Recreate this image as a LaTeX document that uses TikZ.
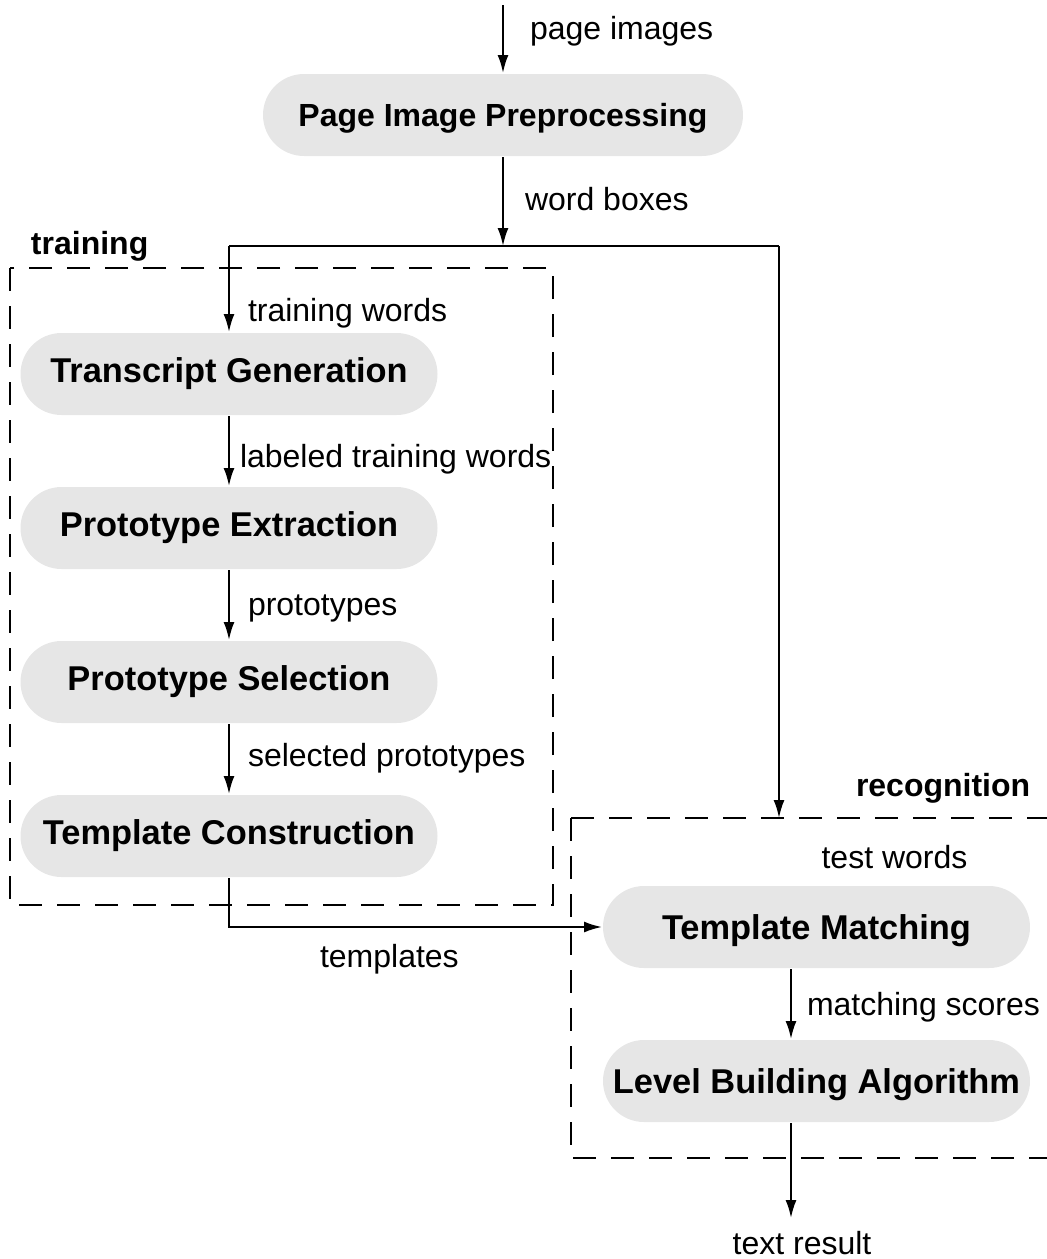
\documentclass[tikz,border=0pt]{standalone}
\usepackage{fontspec}
\setmainfont{Liberation Sans}
\usetikzlibrary{arrows.meta,positioning,calc}
\definecolor{pillgray}{HTML}{E6E6E6}
\tikzset{
  stage/.style={rectangle,rounded corners=20.5pt,fill=pillgray,minimum height=41pt,
    font=\fontsize{17.2pt}{20pt}\selectfont\bfseries},
  title/.style={anchor=west,inner sep=0pt,font=\fontsize{16pt}{19pt}\selectfont\bfseries},
  lbl/.style={font=\fontsize{16pt}{19pt}\selectfont},
  elbl/.style={lbl,yshift=-1.8pt},
  groupbox/.style={dash pattern=on 11.5pt off 7.5pt,line width=1pt},
}

\begin{document}
\begin{tikzpicture}[x=1pt,y=1pt,node distance=77pt,on grid,auto,line width=1pt,
    >={Latex[length=9pt,width=5.5pt]}]
   \useasboundingbox (0,0) rectangle (523.5,-629.5);
   % stages
   \node [stage,minimum width=240pt,font=\fontsize{16pt}{19pt}\selectfont\bfseries,text depth=0pt] (prep) at (251.5,-57.5) {Page Image Preprocessing};
   \node [stage,minimum width=208.5pt] (trans) at (114.5,-187) {Transcript Generation};
   \node [stage,minimum width=208.5pt] (extr) [below=of trans] {Prototype Extraction};
   \node [stage,minimum width=208.5pt] (sel) [below=of extr] {Prototype Selection};
   \node [stage,minimum width=208.5pt] (constr) [below=of sel] {Template Construction};
   \node [stage,minimum width=213.5pt,text depth=0pt] (match) at (408.25,-463.5) {Template Matching};
   \node [stage,minimum width=213.5pt,text depth=0pt] (level) [below=of match] {Level Building Algorithm};
   % group boxes
   \draw [groupbox] (5,-134) rectangle (276.5,-452.5);
   \draw [groupbox] (285.5,-409) -- (523.5,-409);
   \draw [groupbox] (285.5,-409) -- (285.5,-579) -- (523.5,-579);
   \node [title] (traintitle) at (15,-123) {training};
   \node [title] (rectitle) at (427.5,-394) {recognition};
   % free ends
   \coordinate (top) at (251.5,-2.5);
   \coordinate (split) at (251.5,-123);
   \coordinate (wl) at (114.5,-123);
   \coordinate (wr) at (389.5,-123);
   \coordinate (rin) at (389.5,-409);
   \coordinate (out) at (395.5,-609);
   \node [lbl] (testw) at (447.25,-428.5) {test words};
   \node [lbl] (result) at (401,-621.5) {text result};
   % flow
   \draw [->] (top) -- node [elbl,inner sep=13pt,pos=0.33] {page images} (prep);
   \draw [->] (prep) -- node [elbl,inner sep=10.5pt,pos=0.43] {word boxes} (split);
   \draw (wl) -- (wr);
   \draw [->] (wr) -- (rin);
   \path[->]
    (wl) edge node [elbl,inner sep=9pt,pos=0.74] {training words} (trans)
    (trans) edge node [elbl,inner sep=5pt,pos=0.56] {labeled training words} (extr)
    (extr) edge node [elbl,inner sep=9pt,pos=0.5] {prototypes} (sel)
    (sel) edge node [elbl,inner sep=9pt,pos=0.44] {selected prototypes} (constr);
   \draw [->] (constr.south) |- node [lbl,pos=0.715,below=5pt] {templates} (match.west);
   \draw [->] (match.south -| out) -- node [elbl,inner sep=7.5pt,pos=0.49] {matching scores} (level.north -| out);
   \draw [->] (level.south -| out) -- (out);
\end{tikzpicture}
\end{document}
